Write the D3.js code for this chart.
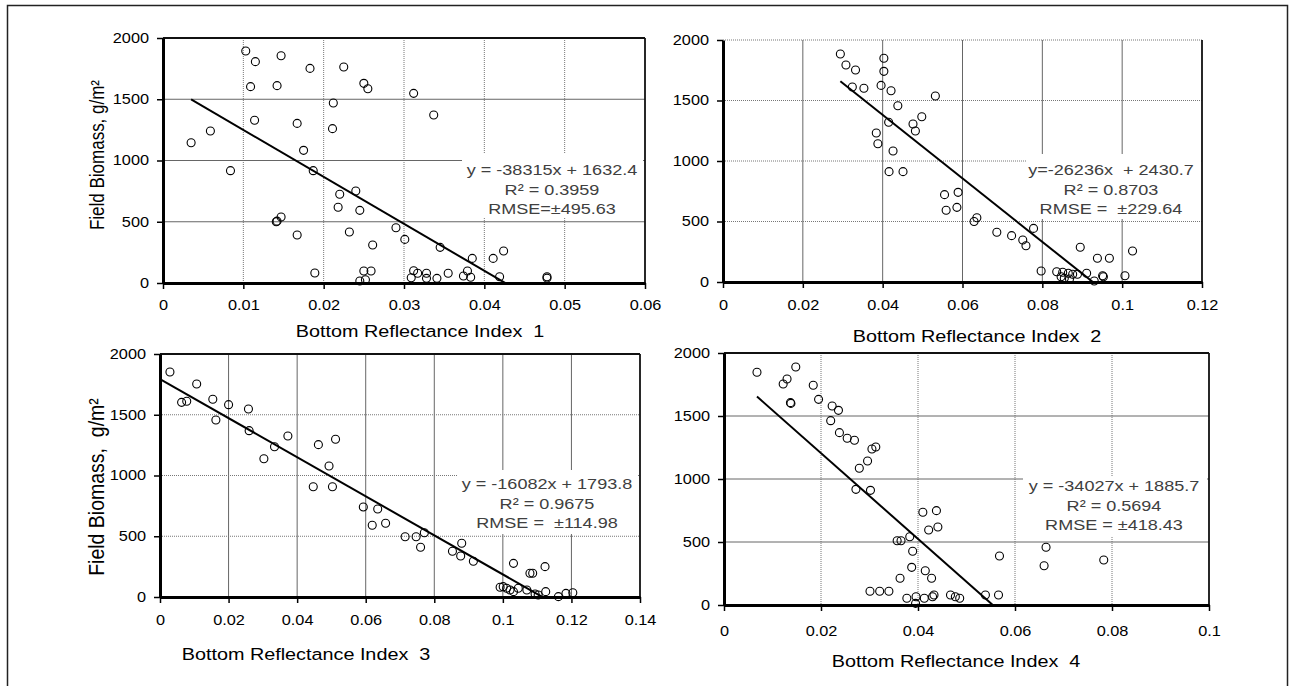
<!DOCTYPE html>
<html lang="en">
<head>
<meta charset="UTF-8">
<title>Field biomass vs bottom reflectance</title>
<script src="https://cdn.jsdelivr.net/npm/d3@7"></script>
<style>
  body { margin: 0; background: #fff; }
  text { font-family: "Liberation Sans", Arial, sans-serif; }
</style>
</head>
<body>
<script>
// ---- data ----
const yTicks = [0, 500, 1000, 1500, 2000];
const xMax = [0.06, 0.12, 0.14, 0.1];
const xStep = [0.01, 0.02, 0.02, 0.02];

const x1 = [0.0103,0.0115,0.0147,0.0183,0.0225,0.0109,0.0142,0.0250,0.0255,0.0212,0.0114,0.0167,0.0211,0.0059,0.0035,0.0175,0.0084,0.0187,0.0240,0.0220,0.0218,0.0245,0.0147,0.0141,0.0142,0.0232,0.0167,0.0261,0.0189,0.0250,0.0259,0.0245,0.0252,0.0312,0.0337,0.0290,0.0301,0.0345,0.0385,0.0411,0.0424,0.0312,0.0309,0.0317,0.0328,0.0328,0.0341,0.0355,0.0374,0.0379,0.0383,0.0419,0.0478,0.0478];
const y1 = [1894,1807,1855,1752,1763,1603,1611,1630,1586,1469,1328,1303,1260,1241,1145,1083,917,917,751,724,618,593,539,500,505,416,392,310,82,98,98,16,27,1548,1371,451,356,291,201,201,261,100,43,79,79,38,38,79,57,98,47,51,51,40];

const x2 = [0.0294,0.0308,0.0332,0.0403,0.0403,0.0324,0.0353,0.0396,0.0421,0.0532,0.0438,0.0498,0.0415,0.0476,0.0482,0.0384,0.0388,0.0426,0.0416,0.0451,0.0555,0.0589,0.0559,0.0586,0.0629,0.0636,0.0686,0.0723,0.0751,0.0759,0.0778,0.0797,0.0836,0.0851,0.0865,0.0855,0.0868,0.0876,0.0911,0.0895,0.0938,0.0968,0.1026,0.0930,0.0951,0.0953,0.1007,0.0847,0.0888];
const y2 = [1884,1793,1752,1849,1741,1612,1601,1625,1581,1537,1457,1366,1320,1306,1248,1231,1143,1083,912,912,722,741,593,617,500,531,411,383,347,300,443,91,85,80,72,31,25,64,72,287,196,196,256,8,52,44,52,44,64];

const x3 = [0.0029,0.0063,0.0078,0.0107,0.0154,0.0163,0.0200,0.0258,0.0260,0.0303,0.0334,0.0373,0.0462,0.0512,0.0493,0.0447,0.0503,0.0593,0.0635,0.0619,0.0658,0.0715,0.0747,0.0771,0.0760,0.0853,0.0880,0.0877,0.0914,0.1031,0.1079,0.1087,0.1123,0.0992,0.1001,0.1011,0.1021,0.1031,0.1045,0.1070,0.1094,0.1103,0.1125,0.1162,0.1184,0.1204];
const y3 = [1852,1602,1611,1753,1627,1457,1583,1547,1369,1138,1237,1325,1254,1298,1078,908,908,741,724,590,607,496,496,529,409,376,442,337,294,277,195,195,250,80,85,72,58,44,72,58,25,16,44,3,30,35];

const x4 = [0.0068,0.0130,0.0122,0.0148,0.0137,0.0138,0.0184,0.0195,0.0223,0.0236,0.0220,0.0238,0.0254,0.0269,0.0305,0.0313,0.0296,0.0279,0.0272,0.0302,0.0410,0.0438,0.0422,0.0441,0.0383,0.0357,0.0365,0.0389,0.0387,0.0415,0.0428,0.0363,0.0301,0.0321,0.0340,0.0377,0.0396,0.0395,0.0413,0.0430,0.0433,0.0467,0.0477,0.0486,0.0568,0.0664,0.0660,0.0783,0.0539,0.0566];
const y4 = [1847,1794,1754,1889,1606,1600,1744,1632,1579,1545,1463,1368,1323,1307,1238,1254,1143,1085,918,910,736,749,595,619,542,510,510,426,299,272,212,212,109,109,109,53,66,13,53,66,79,79,66,53,389,458,312,357,79,79];

const slopes = [-38315, -26236, -16082, -34027];
const intercepts = [1632.4, 2430.7, 1793.8, 1885.7];
const trendFrom = [0.0035, 0.0294, 0, 0.0068];

const eqLines = [
  ["y = -38315x + 1632.4", "R² = 0.3959", "RMSE=±495.63"],
  ["y=-26236x  + 2430.7", "R² = 0.8703", "RMSE =  ±229.64"],
  ["y = -16082x + 1793.8", "R² = 0.9675", "RMSE =  ±114.98"],
  ["y = -34027x + 1885.7", "R² = 0.5694", "RMSE = ±418.43"]
];
const xTitles = ["Bottom Reflectance Index  1", "Bottom Reflectance Index  2",
                 "Bottom Reflectance Index  3", "Bottom Reflectance Index  4"];
const yTitles = ["Field Biomass, g/m²", null, "Field Biomass,  g/m²", null];

// ---- layout ----
const SX = 1.165;   // the reference text is a little stretched horizontally
const panels = [
  {xs: x1, ys: y1, l: 163, r: 645, t: 38, b: 283, vGrid: "dot", hGrid: "solid", top: "solid", gap: 11,
   eqX: 552, eqY: 175, box: [462, 153, 643, 218], titleX: 420, titleY: 337, yt: {x: 104, y: 155, size: 17}},
  {xs: x2, ys: y2, l: 723, r: 1202, t: 40, b: 282, vGrid: "solid", hGrid: "dot", top: "dot", gap: 12,
   eqX: 1111, eqY: 175, box: [1027, 154, 1200, 219], titleX: 977, titleY: 342},
  {xs: x3, ys: y3, l: 160, r: 640, t: 354, b: 597, vGrid: "solid", hGrid: "dot", top: "solid", gap: 12,
   eqX: 547, eqY: 489, box: [458, 470, 637, 534], titleX: 306, titleY: 660, yt: {x: 104, y: 487, size: 19.5}},
  {xs: x4, ys: y4, l: 724, r: 1209, t: 353, b: 605, vGrid: "dot", hGrid: "solid", top: "solid", gap: 15,
   eqX: 1114, eqY: 491, box: [1023, 477, 1207, 537], titleX: 956, titleY: 667}
];

const width = 1295, height = 686;
const svg = d3.select("body").append("svg")
    .attr("width", width)
    .attr("height", height);

// outer frame
svg.append("rect")
    .attr("x", 7.5).attr("y", 5.5)
    .attr("width", 1280).attr("height", 700)
    .attr("fill", "none").attr("stroke", "#222").attr("stroke-width", 1.5);

function label(g, x, y, str, size, anchor, color) {
  return g.append("text")
      .attr("transform", `translate(${x},${y}) scale(${SX},1)`)
      .attr("text-anchor", anchor)
      .attr("fill", color)
      .style("font-size", size + "px")
      .style("white-space", "pre")
      .text(str);
}

const fmt = d => String(+d.toFixed(3));

panels.forEach(function(p, i) {
  const g = svg.append("g");
  const x = d3.scaleLinear().domain([0, xMax[i]]).range([p.l, p.r]);
  const y = d3.scaleLinear().domain([0, 2000]).range([p.b, p.t]);
  const xt = d3.range(0, xMax[i] + xStep[i] / 2, xStep[i]);

  // grid
  const dotted = {stroke: "#777", dash: "1,1", w: 1};
  const solid = {stroke: "#666", dash: null, w: 1};
  const vs = p.vGrid === "dot" ? dotted : solid;
  const hs = p.hGrid === "dot" ? dotted : solid;

  g.selectAll("line.vg").data(xt.slice(1, -1)).enter().append("line")
      .attr("x1", d => x(d)).attr("x2", d => x(d))
      .attr("y1", p.t).attr("y2", p.b)
      .attr("stroke", vs.stroke).attr("stroke-width", vs.w)
      .attr("stroke-dasharray", vs.dash);
  g.selectAll("line.hg").data(yTicks.slice(1, -1)).enter().append("line")
      .attr("x1", p.l).attr("x2", p.r)
      .attr("y1", d => y(d)).attr("y2", d => y(d))
      .attr("stroke", hs.stroke).attr("stroke-width", hs.w)
      .attr("stroke-dasharray", hs.dash);

  // top and right edges
  g.append("line")
      .attr("x1", p.l).attr("x2", p.r).attr("y1", y(2000)).attr("y2", y(2000))
      .attr("stroke", p.top === "dot" ? "#777" : "#111")
      .attr("stroke-width", p.top === "dot" ? 1 : 2)
      .attr("stroke-dasharray", p.top === "dot" ? "1,1" : null);
  g.append("line")
      .attr("x1", x(xMax[i])).attr("x2", x(xMax[i])).attr("y1", p.t).attr("y2", p.b)
      .attr("stroke", "#111").attr("stroke-width", 1.8);

  // equation box
  g.append("rect")
      .attr("x", p.box[0]).attr("y", p.box[1])
      .attr("width", p.box[2] - p.box[0]).attr("height", p.box[3] - p.box[1])
      .attr("fill", "#fff");
  eqLines[i].forEach(function(s, k) {
    label(g, p.eqX, p.eqY + k * 19.5, s, 15.5, "middle", "#404040");
  });

  // trend line, clipped to the plot area
  g.append("clipPath").attr("id", "clip" + i)
    .append("rect").attr("x", p.l).attr("y", p.t)
      .attr("width", p.r - p.l).attr("height", p.b - p.t);
  const tx = [trendFrom[i], d3.max(p.xs)];
  g.append("path")
      .datum(tx)
      .attr("clip-path", `url(#clip${i})`)
      .attr("d", d3.line().x(d => x(d)).y(d => y(slopes[i] * d + intercepts[i])))
      .attr("fill", "none").attr("stroke", "#000").attr("stroke-width", 2);

  // points
  g.selectAll("circle").data(p.xs).enter().append("circle")
      .attr("cx", d => x(d))
      .attr("cy", (d, k) => y(p.ys[k]))
      .attr("r", 4)
      .attr("fill", "none").attr("stroke", "#000").attr("stroke-width", 1.1);

  // axes
  const ax = g.append("g").attr("transform", `translate(0,${p.b})`)
      .call(d3.axisBottom(x).tickValues(xt).tickFormat(fmt)
          .tickSize(6).tickSizeOuter(0).tickPadding(p.gap));
  const ay = g.append("g").attr("transform", `translate(${p.l},0)`)
      .call(d3.axisLeft(y).tickValues(yTicks).tickFormat(d => String(d))
          .tickSize(6).tickSizeOuter(0).tickPadding(6));
  [ax, ay].forEach(function(a) {
    a.select(".domain").attr("stroke", "#000").attr("stroke-width", 3);
    a.selectAll(".tick line").attr("stroke", "#000").attr("stroke-width", 1.5);
    a.selectAll(".tick text")
        .attr("transform", `scale(${SX},1)`)
        .attr("fill", "#000")
        .style("font-size", "14px")
        .style("font-family", "'Liberation Sans', Arial, sans-serif");
  });

  // titles
  label(g, p.titleX, p.titleY, xTitles[i], 17, "middle", "#000");
  if (yTitles[i]) {
    g.append("text")
        .attr("transform", `translate(${p.yt.x},${p.yt.y}) scale(${SX},1) rotate(-90)`)
        .attr("text-anchor", "middle")
        .style("font-size", p.yt.size + "px")
        .style("white-space", "pre")
        .text(yTitles[i]);
  }
});
</script>
</body>
</html>
